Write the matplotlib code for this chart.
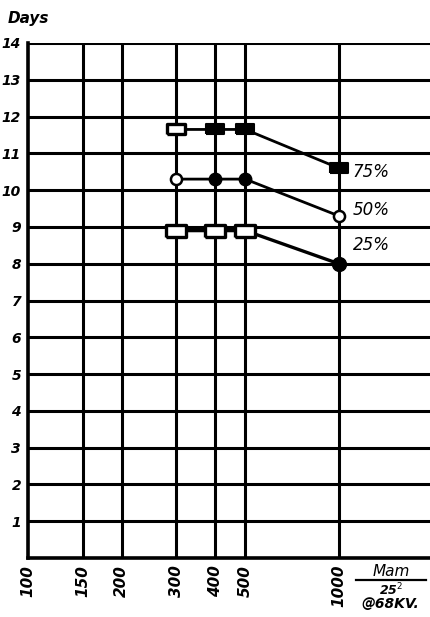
import matplotlib
matplotlib.use("Agg")
import matplotlib.pyplot as plt
from matplotlib.ticker import FixedLocator, NullLocator

# thickness (mm) values along the log axis
x_ticks = [100, 150, 200, 300, 400, 500, 1000]
x_pts = [300, 400, 500, 1000]

days_75 = [11.65, 11.65, 11.65, 10.6]
days_50 = [10.3, 10.3, 10.3, 9.3]
days_25 = [8.9, 8.9, 8.9, 8.0]

curve_labels = ["75%", "50%", "25%"]
label_y = [10.5, 9.45, 8.5]
y_ticks = list(range(1, 15))

FONT = dict(family="DejaVu Sans", style="italic", weight="bold")
RECT = [(-1, -0.6), (1, -0.6), (1, 0.6), (-1, 0.6), (-1, -0.6)]

fig = plt.figure(figsize=(4.31, 6.17), dpi=100)
ax = fig.add_axes([28 / 431, 59 / 617, 403 / 431, 515 / 617])
ax.set_xscale("log")
ax.set_xlim(100, 1980)
ax.set_ylim(0, 14)

# heavy hand-ruled grid
for xv in x_ticks[1:]:
    ax.axvline(xv, color="black", lw=2.2, zorder=1)
for yv in y_ticks:
    ax.axhline(yv, color="black", lw=2.2, zorder=1)
for side in ("left", "bottom"):
    ax.spines[side].set_linewidth(2.6)
for side in ("top", "right"):
    ax.spines[side].set_visible(False)

ax.xaxis.set_major_locator(FixedLocator(x_ticks))
ax.xaxis.set_minor_locator(NullLocator())
ax.set_xticklabels([str(v) for v in x_ticks], rotation=90, va="top",
                   fontsize=11, **FONT)
ax.yaxis.set_major_locator(FixedLocator(y_ticks))
ax.set_yticklabels([str(v) for v in y_ticks], fontsize=10, **FONT)
ax.tick_params(length=0, pad=5)

# 75% curve: rectangles, first one open
ax.plot(x_pts, days_75, color="black", lw=2, zorder=3)
ax.plot(x_pts[:1], days_75[:1], ls="none", marker=RECT, ms=13,
        mfc="white", mec="black", mew=2.4, zorder=4)
ax.plot(x_pts[1:], days_75[1:], ls="none", marker=RECT, ms=13,
        mfc="black", mec="black", mew=1.5, zorder=4)

# 50% curve: circles, open at the ends
ax.plot(x_pts, days_50, color="black", lw=2, zorder=3)
ax.plot([x_pts[0], x_pts[-1]], [days_50[0], days_50[-1]], ls="none",
        marker="o", ms=8, mfc="white", mec="black", mew=1.8, zorder=4)
ax.plot(x_pts[1:3], days_50[1:3], ls="none", marker="o", ms=9,
        mfc="black", mec="black", zorder=4)

# 25% curve: open rectangles, filled dot at the end
ax.plot(x_pts, days_25, color="black", lw=2.4, zorder=3)
ax.plot(x_pts[:3], days_25[:3], ls="none", marker=RECT, ms=14,
        mfc="white", mec="black", mew=2.4, zorder=4)
ax.plot(x_pts[-1], days_25[-1], ls="none", marker="o", ms=10,
        mfc="black", mec="black", zorder=4)

for lbl, yv in zip(curve_labels, label_y):
    ax.text(1110, yv, lbl, fontsize=12, style="italic", family="DejaVu Sans",
            va="center", ha="left")

fig.text(8 / 431, 1 - 18 / 617, "Days", fontsize=11, ha="left", va="center", **FONT)

# axis unit label under the right end
fig.text(391 / 431, 1 - 571 / 617, "Mam", fontsize=11, ha="center",
         va="center", style="italic", family="DejaVu Sans")
fig.add_artist(plt.Line2D([356 / 431, 426 / 431], [1 - 580 / 617, 1 - 580 / 617],
                          color="black", lw=1.6))
fig.text(391 / 431, 1 - 590 / 617, "25$^2$", fontsize=9, ha="center",
         va="center", **FONT)
fig.text(390 / 431, 1 - 604 / 617, "@68KV.", fontsize=10, ha="center",
         va="center", **FONT)

fig.savefig("out.png", dpi=100)
